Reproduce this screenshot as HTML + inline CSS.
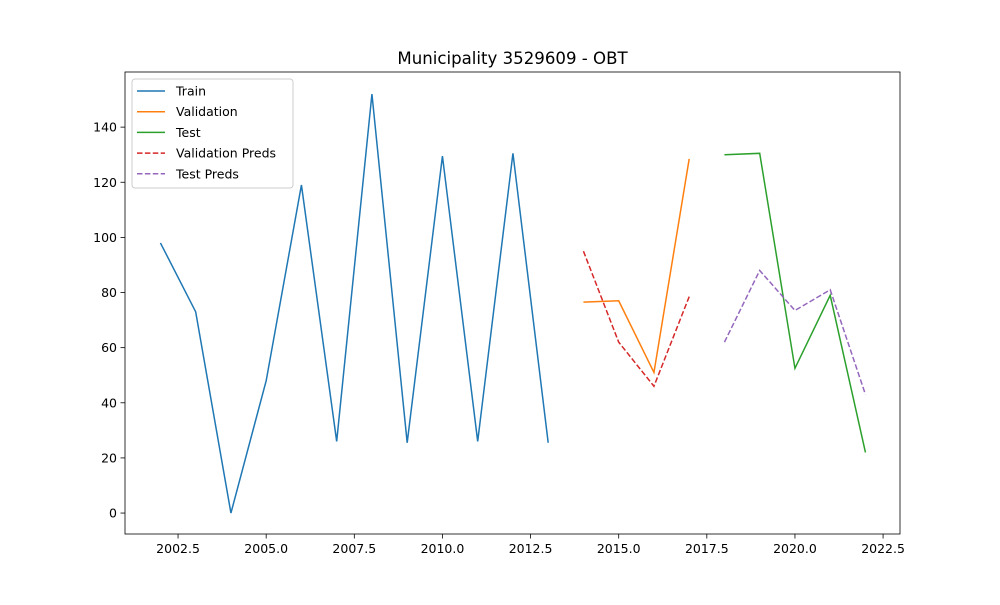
<!DOCTYPE html>
<html><head><meta charset="utf-8"><style>
body{margin:0;background:#fff;font-family:"Liberation Sans","DejaVu Sans",sans-serif;}
svg text{font-family:"DejaVu Sans","Liberation Sans",sans-serif;}
</style></head><body>
<svg id="chart" width="1000" height="600"></svg>
<script>
const trainYears=[2002,2003,2004,2005,2006,2007,2008,2009,2010,2011,2012,2013];
const trainVals=[98,73,0,48,119,26,152,25.5,129.5,26,130.5,25.5];
const valYears=[2014,2015,2016,2017];
const valVals=[76.5,77,51,128.5];
const valPreds=[95,62,46,78.5];
const testYears=[2018,2019,2020,2021,2022];
const testVals=[130,130.5,52.5,79,22];
const testPreds=[62,88,73.5,81,43];
const xTicks=[2002.5,2005,2007.5,2010,2012.5,2015,2017.5,2020,2022.5];
const yTicks=[0,20,40,60,80,100,120,140];

const L=125,R=900,T=72,B=534;
const xMin=2000.995,xMax=2022.98,yMin=-7.6,yMax=160.0;
const X=v=>L+(v-xMin)/(xMax-xMin)*(R-L);
const Y=v=>B-(v-yMin)/(yMax-yMin)*(B-T);
const svg=document.getElementById('chart');
const NS='http://www.w3.org/2000/svg';
function mk(t,a,p){const e=document.createElementNS(NS,t);for(const k in a)e.setAttribute(k,a[k]);(p||svg).appendChild(e);return e;}

let e=mk('text',{x:512.5,y:64,'text-anchor':'middle','font-size':16.6,fill:'#000'});e.textContent='Municipality 3529609 - OBT';



xTicks.forEach(t=>{
  const l=mk('line',{x1:X(t),x2:X(t),y1:B,y2:B+4.5,stroke:'#000','stroke-width':0.8});
  
  
  const tx=mk('text',{x:X(t),y:B+19,'text-anchor':'middle','font-size':12.5});tx.textContent=t.toFixed(1);
  
  
});
yTicks.forEach(t=>{
  const l=mk('line',{x1:L-4.5,x2:L,y1:Y(t),y2:Y(t),stroke:'#000','stroke-width':0.8});
  
  
  const tx=mk('text',{x:L-8,y:Y(t)+4.5,'text-anchor':'end','font-size':12.5});tx.textContent=t;
  
  
});

function series(xs,ys,color,dash,name){
  const p=mk('polyline',{points:xs.map((x,i)=>X(x)+','+Y(ys[i])).join(' '),fill:'none',stroke:color,'stroke-width':1.5,'stroke-dasharray':dash||''});
  
  
}
series(trainYears,trainVals,'#1f77b4','','train-line');
series(valYears,valVals,'#ff7f0e','','validation-line');
series(testYears,testVals,'#2ca02c','','test-line');
series(valYears,valPreds,'#d62728','5.5,2.4','validation-preds-line');
series(testYears,testPreds,'#9467bd','5.5,2.4','test-preds-line');

const fr=mk('rect',{x:L,y:T,width:R-L,height:B-T,fill:'none',stroke:'#000','stroke-width':0.8});



const lg=mk('g',{});


mk('rect',{x:132,y:79,width:161,height:109,fill:'#fff',stroke:'#ccc','stroke-width':1,rx:3},lg);
const items=[['Train','#1f77b4',''],['Validation','#ff7f0e',''],['Test','#2ca02c',''],['Validation Preds','#d62728','5.5,2.4'],['Test Preds','#9467bd','5.5,2.4']];
items.forEach((it,i)=>{
  const y=91+i*20.7;
  const g=mk('g',{},lg);
  
  
  mk('line',{x1:137,x2:165,y1:y,y2:y,stroke:it[1],'stroke-width':1.5,'stroke-dasharray':it[2]},g);
  const t=mk('text',{x:176,y:y+4.5,'font-size':12.5},g);t.textContent=it[0];
});
</script>
</body></html>
